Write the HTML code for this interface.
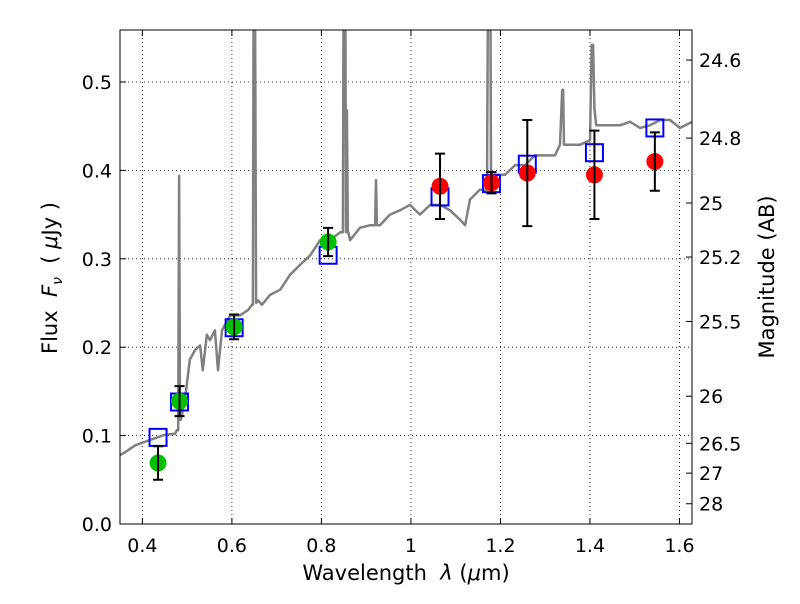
<!DOCTYPE html>
<html><head><meta charset="utf-8"><style>
body{margin:0;background:#fff;font-family:"DejaVu Sans","Liberation Sans",sans-serif}
svg text{font-family:"DejaVu Sans","Liberation Sans",sans-serif}
</style></head><body>
<svg id="c" width="800" height="600" xmlns="http://www.w3.org/2000/svg"></svg>
<script>
const specX=[0.350,0.361,0.384,0.417,0.451,0.473,0.477,0.480,0.482,0.484,0.486,0.495,0.506,0.518,0.529,0.535,0.544,0.551,0.562,0.569,0.578,0.596,0.618,0.636,0.645,0.647,0.649,0.651,0.654,0.658,0.667,0.685,0.708,0.730,0.752,0.775,0.797,0.819,0.842,0.848,0.850,0.853,0.855,0.857,0.859,0.860,0.864,0.886,0.909,0.920,0.922,0.924,0.931,0.953,0.976,0.998,1.020,1.043,1.065,1.087,1.110,1.121,1.132,1.154,1.170,1.173,1.175,1.177,1.179,1.188,1.210,1.233,1.255,1.277,1.300,1.322,1.333,1.338,1.340,1.342,1.347,1.356,1.378,1.400,1.404,1.407,1.410,1.414,1.423,1.445,1.467,1.490,1.512,1.534,1.557,1.579,1.601,1.628];
const specY=[0.078,0.081,0.089,0.095,0.101,0.102,0.106,0.106,0.394,0.118,0.118,0.140,0.186,0.197,0.202,0.174,0.214,0.208,0.219,0.174,0.219,0.236,0.236,0.242,0.248,0.248,0.70,0.70,0.250,0.253,0.248,0.259,0.265,0.282,0.293,0.304,0.321,0.321,0.330,0.330,0.70,0.70,0.330,0.468,0.330,0.330,0.321,0.335,0.338,0.338,0.389,0.338,0.338,0.350,0.355,0.361,0.350,0.361,0.361,0.355,0.344,0.338,0.367,0.378,0.378,0.70,0.70,0.70,0.395,0.395,0.395,0.406,0.406,0.417,0.417,0.417,0.429,0.491,0.491,0.429,0.429,0.429,0.429,0.434,0.542,0.542,0.470,0.451,0.451,0.451,0.451,0.455,0.448,0.451,0.457,0.457,0.448,0.455];
const photX=[0.435,0.483,0.605,0.815,1.065,1.18,1.26,1.41,1.545];
const photY=[0.069,0.139,0.223,0.319,0.382,0.386,0.397,0.395,0.410];
const photErr=[0.019,0.017,0.014,0.016,0.037,0.012,0.060,0.050,0.033];
const photColor=['#00c000','#00c000','#00c000','#00c000','red','red','red','red','red'];
const modelY=[0.098,0.138,0.222,0.304,0.370,0.385,0.407,0.420,0.448];
const xTicks=[0.4,0.6,0.8,1.0,1.2,1.4,1.6];
const xTickLabels=['0.4','0.6','0.8','1','1.2','1.4','1.6'];
const yTicks=[0,0.1,0.2,0.3,0.4,0.5];
const yTickLabels=['0.0','0.1','0.2','0.3','0.4','0.5'];
const magTicks=[24.6,24.8,25,25.2,25.5,26,26.5,27,28];
const magTickLabels=['24.6','24.8','25','25.2','25.5','26','26.5','27','28'];

const L=120,R=692,T=30,B=524,X0=0.35,X1=1.628,Y0=0,Y1=0.5588;
const sx=v=>L+(v-X0)/(X1-X0)*(R-L);
const sy=v=>B-(v-Y0)/(Y1-Y0)*(B-T);
const svg=document.getElementById('c');
const NS='http://www.w3.org/2000/svg';
function mk(tag,attrs,parent){const e=document.createElementNS(NS,tag);for(const k in attrs)e.setAttribute(k,attrs[k]);(parent||svg).appendChild(e);return e;}
const defs=mk('defs',{});const cp=mk('clipPath',{id:'clip'},defs);mk('rect',{x:L,y:T,width:R-L,height:B-T},cp);

xTicks.forEach((t,i)=>{const g=mk('line',{x1:sx(t),x2:sx(t),y1:T,y2:B,stroke:'#000','stroke-dasharray':'1,3','stroke-width':0.8});

const tk=mk('line',{x1:sx(t),x2:sx(t),y1:B,y2:B-6,stroke:'#000'});
const tk2=mk('line',{x1:sx(t),x2:sx(t),y1:T,y2:T+6,stroke:'#000'});
const tx=mk('text',{x:sx(t),y:B+28,'text-anchor':'middle','font-size':19});tx.textContent=xTickLabels[i];
});
yTicks.forEach((t,i)=>{const g=mk('line',{x1:L,x2:R,y1:sy(t),y2:sy(t),stroke:'#000','stroke-dasharray':'1,3','stroke-width':0.8});

const tk=mk('line',{x1:L,x2:L+6,y1:sy(t),y2:sy(t),stroke:'#000'});
const tx=mk('text',{x:L-8,y:sy(t)+7,'text-anchor':'end','font-size':19});tx.textContent=yTickLabels[i];
});
magTicks.forEach((m,i)=>{const f=Math.pow(10,(23.9-m)/2.5);const y=sy(f);
const tk=mk('line',{x1:R,x2:R-6,y1:y,y2:y,stroke:'#000'});
const tx=mk('text',{x:R+7,y:y+7,'font-size':19});tx.textContent=magTickLabels[i];
});

let d='';specX.forEach((x,i)=>{d+=(i?'L':'M')+sx(x).toFixed(1)+','+sy(specY[i]).toFixed(1);});
const sp=mk('path',{d:d,fill:'none',stroke:'#808080','stroke-width':2.5,'clip-path':'url(#clip)','stroke-linejoin':'round'});


photX.forEach((x,i)=>{const r=mk('rect',{x:sx(x)-8.5,y:sy(modelY[i])-8.5,width:17,height:17,fill:'none',stroke:'#0000ff','stroke-width':2});
});
photX.forEach((x,i)=>{const cx=sx(x),y1=sy(photY[i]-photErr[i]),y2=sy(photY[i]+photErr[i]);
const c=mk('circle',{cx:cx,cy:sy(photY[i]),r:8.5,fill:photColor[i]});

const e=mk('path',{d:`M${cx},${y1}L${cx},${y2}M${cx-5},${y1}L${cx+5},${y1}M${cx-5},${y2}L${cx+5},${y2}`,stroke:'#000','stroke-width':2});
});

const fr=mk('rect',{x:L,y:T,width:R-L,height:B-T,fill:'none',stroke:'#000','stroke-width':1});

</script>
<div style="position:absolute;left:0;top:0;width:800px;height:600px;pointer-events:none">
<div style="position:absolute;left:0;width:812px;top:561px;text-align:center;font-size:21px">Wavelength&nbsp; <i>λ</i> (<i>μ</i>m)</div>
<div style="position:absolute;left:52px;top:278px;transform:translate(-50%,-50%) rotate(-90deg);white-space:nowrap;font-size:21px">Flux&nbsp; <i>F<sub style="font-size:14px">ν</sub></i> &nbsp;( <i>μ</i>Jy )</div>
<div style="position:absolute;left:767px;top:277px;transform:translate(-50%,-50%) rotate(-90deg);white-space:nowrap;font-size:21px">Magnitude (AB)</div>
</div>
</body></html>
